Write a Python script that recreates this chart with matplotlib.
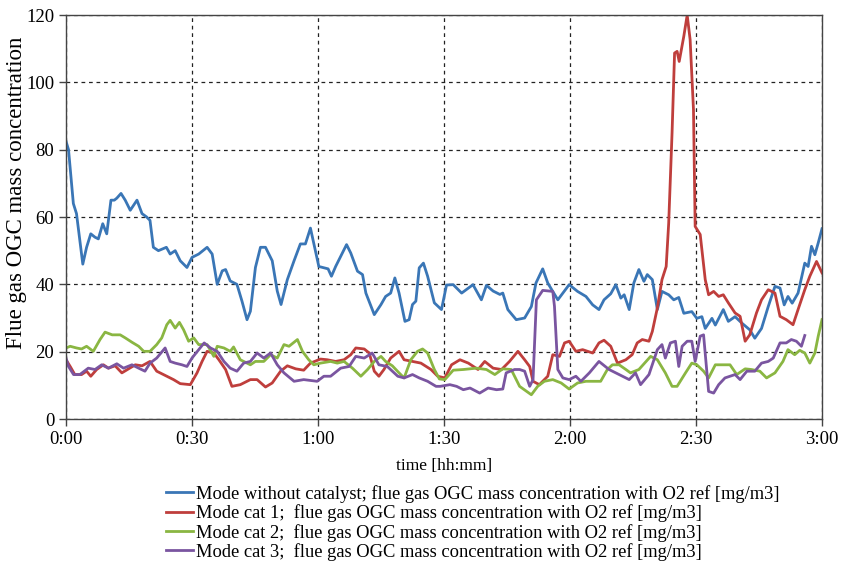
import matplotlib
matplotlib.use("Agg")
import matplotlib.pyplot as plt

plt.rcParams['font.family'] = ['Liberation Serif', 'DejaVu Serif']

# time in minutes, values in mg/m3
t_blue = [0, 0.6, 1.1, 1.75, 2.5, 3.3, 4.0, 4.9, 5.9, 6.9, 7.7, 8.75, 9.7, 10.7, 11.5, 12.1, 13.1,
          14.1, 15.3, 16.9, 18.1, 19.2, 20, 20.8, 22, 23.9, 24.8, 26, 27.2, 28.8, 30, 31.6, 33.6,
          34.8, 36, 37.2, 38, 39.1, 40.7, 41.9, 43.1, 43.9, 45.1, 46.3, 47.5, 49.1, 50.3, 51.2,
          52.7, 54.3, 55.8, 57, 58.2, 59.2, 60.2, 61.4, 62.4, 63.2, 64.2, 65.4, 66.8, 67.8, 69.4,
          70.6, 71.4, 73.4, 75, 76.1, 77.3, 78.3, 79.3, 80.7, 81.7, 82.5, 83.3, 84.1, 85.1, 86.1,
          87.7, 89.4, 90.6, 92.2, 94.2, 96.9, 98.9, 100.1, 101.7, 103.3, 104.0, 105.2, 107.2,
          109.2, 110.8, 111.9, 113.5, 114.7, 117.1, 118.3, 119.8, 121.8, 123.8, 125.4, 126.9,
          128.1, 129.7, 130.9, 132.1, 132.9, 134.1, 135.2, 136.4, 137.6, 138.4, 139.6, 140.8,
          141.9, 143.5, 144.7, 145.9, 147.1, 149.0, 150.2, 151.4, 152.2, 153.8, 154.6, 156.5,
          157.7, 159.3, 160.9, 162.8, 164.0, 165.6, 167.2, 168.8, 170.0, 171.0, 171.9, 172.9,
          174.3, 175.9, 176.7, 177.5, 178.3, 179.1, 180]
v_blue = [82.5, 80, 73, 64, 61, 53, 46, 51, 55, 54, 53.5, 58, 55, 65, 65, 65.6, 67,
          65, 62, 65, 61, 60, 59, 51, 50, 51, 49, 50, 47, 45, 48, 49, 51,
          49, 40, 44, 44.4, 41, 40, 35, 29.5, 32, 45, 51, 51, 47, 38, 34,
          41.4, 47, 52, 52, 56.7, 51, 45.3, 44.9, 44.6, 42.4, 45.3, 48.3, 51.8, 49.3, 43.9,
          42.9, 37.4, 31, 34, 36.4, 37.4, 41.9, 37.4, 29, 29.5, 34, 35, 44.9, 46.3, 42.4,
          34.5, 32.5, 39.8, 39.9, 37.4, 39.9, 35.4, 39.7, 38.0, 37.0, 37.4, 32.5, 29.5,
          30.0, 33.4, 40.4, 44.6, 40.4, 35.4, 37.4, 39.9, 37.9, 36.4, 33.9, 32.5,
          35.4, 37.2, 39.9, 35.9, 36.9, 32.5, 40.4, 44.4, 40.9, 42.9, 41.4, 32.5,
          37.9, 36.9, 35.4, 36.1, 31.4, 31.9, 29.9, 30.4, 26.9, 29.9, 27.9, 32.5,
          29.0, 30.4, 28.5, 26.5, 24.0, 26.9, 33.4, 39.4, 38.9, 33.9, 36.4, 34.4,
          37.4, 46.3, 45.3, 51.3, 48.8, 52.3, 56.5]

t_red = [0, 1.0, 2.1, 3.7, 4.9, 5.9, 7.3, 8.9, 10.1, 11.7, 13.3, 14.9, 16.5, 18.1, 20.0, 21.6,
         24.0, 25.6, 27.2, 29.6, 31.2, 32.4, 33.6, 35.2, 36.4, 38.0, 39.5, 41.5, 43.9, 45.5,
         47.5, 49.1, 51.1, 52.7, 54.7, 56.6, 58.2, 60.6, 62.2, 64.2, 66.2, 67.8, 69.0, 71.0,
         72.2, 73.4, 74.5, 75.7, 77.3, 79.3, 80.5, 82.5, 84.5, 86.9, 88.5, 90.2, 91.8, 93.8,
         95.8, 98.1, 99.7, 101.7, 103.7, 105.6, 107.6, 109.2, 110.4, 111.2, 112.7, 114.7,
         115.9, 117.5, 118.7, 119.8, 121.4, 123.0, 125.4, 126.9, 128.1, 129.7, 131.3, 133.3,
         134.8, 136.0, 137.2, 138.8, 139.6, 140.8, 141.9, 142.9, 143.5, 144.3, 144.9, 145.5,
         146.0, 147.1, 147.9, 148.6, 149.4, 149.8, 151.0, 152.2, 153.0, 154.2, 155.4, 156.5,
         157.7, 159.3, 160.5, 161.7, 162.8, 164.4, 165.6, 167.2, 168.8, 170.0, 171.5, 173.1,
         174.3, 175.9, 177.1, 178.7, 180]
v_red = [17.6, 15.6, 13.2, 13.2, 14.2, 12.7, 14.7, 16.1, 15.1, 15.8, 13.7, 14.9, 16.1, 15.8, 17.1, 14.2,
         12.7, 11.7, 10.5, 10.2, 13.7, 17.1, 20.1, 19.6, 17.6, 14.7, 9.7, 10.2, 11.7, 11.7,
         9.5, 10.7, 14.2, 15.8, 14.9, 14.5, 16.6, 17.8, 17.6, 17.1, 17.6, 19.1, 21.1, 20.8,
         19.6, 14.2, 12.7, 14.7, 18.1, 20.1, 17.6, 17.1, 16.6, 14.7, 12.7, 12.2, 16.1, 17.6,
         16.6, 14.7, 17.1, 15.1, 14.7, 17.1, 20.1, 17.6, 15.6, 11.2, 10.2, 12.7,
         19.1, 18.6, 22.6, 23.1, 20.1, 20.6, 19.6, 22.6, 23.4, 21.6, 16.6, 17.6,
         19.1, 22.6, 23.6, 23.1, 26.0, 33.0, 41.4, 45.3, 58.2, 85, 108.7, 109.2,
         106.2, 113.7, 120, 112.7, 91.9, 57.2, 54.8, 41.4, 36.9, 37.9, 36.4, 36.9,
         34.5, 31.5, 30.5, 23.1, 25.0, 31.5, 35.4, 38.4, 37.4, 30.5, 29.5, 28.0,
         32.5, 38.4, 42.4, 46.8, 43.4]

t_green = [0, 1.0, 2.5, 3.7, 4.9, 6.5, 8.1, 9.3, 11.0, 12.9, 14.1, 15.7, 17.3, 18.5, 20.0, 21.6,
           22.8, 24.0, 24.8, 26.0, 27.0, 28.0, 29.2, 30.4, 31.6, 33.6, 35.2, 36.0, 37.6, 39.1,
           39.9, 41.5, 43.9, 45.1, 47.1, 48.7, 50.3, 51.9, 53.1, 55.1, 56.3, 57.8, 59.0, 60.6,
           63.0, 64.6, 66.2, 68.2, 70.2, 71.8, 73.4, 75.0, 76.1, 77.7, 79.3, 80.5, 82.1, 83.7,
           84.9, 86.1, 87.7, 88.9, 90.2, 92.2, 94.6, 97.7, 100.1, 102.1, 104.0, 106.0, 108.0,
           110.8, 112.3, 113.9, 115.9, 117.9, 119.8, 121.8, 123.8, 127.3, 128.9, 130.1, 131.7,
           133.3, 134.4, 136.4, 139.2, 140.8, 142.7, 144.3, 145.5, 147.5, 149.0, 150.2, 151.8,
           153.0, 154.6, 156.5, 158.1, 159.7, 161.7, 163.2, 165.2, 166.8, 168.8, 170.7, 171.9,
           173.5, 174.7, 175.9, 177.1, 178.3, 179.1, 180]
v_green = [21.1, 21.6, 21.1, 20.8, 21.6, 20.1, 23.6, 25.8, 25.0, 25.0, 24.1, 22.8, 21.6, 20.1, 20.1, 22.1,
           24.1, 28.0, 29.3, 27.0, 28.7, 26.5, 23.1, 24.1, 22.1, 22.1, 18.6, 21.6, 21.1, 20.1,
           21.4, 17.6, 16.1, 17.1, 17.1, 19.1, 18.1, 22.1, 21.6, 23.6, 20.1, 17.6, 16.1, 16.6,
           17.1, 16.6, 17.1, 15.1, 12.7, 14.7, 17.1, 18.6, 17.1, 15.8, 13.7, 12.2, 17.6, 20.1,
           20.8, 19.6, 14.7, 11.9, 11.7, 14.5, 14.7, 15.1, 14.7, 13.2, 14.9, 14.7, 9.7,
           7.2, 9.7, 11.2, 11.7, 10.7, 8.9, 10.7, 11.2, 11.2, 14.7, 16.1, 16.1,
           14.7, 13.7, 14.7, 18.6, 17.6, 13.7, 9.7, 9.7, 13.7, 16.6, 16.1, 14.2,
           12.2, 16.1, 16.1, 16.1, 13.2, 14.9, 14.7, 14.2, 12.2, 13.7, 17.1, 20.6,
           19.1, 20.4, 19.6, 16.6, 19.6, 24.6, 29.5]

t_purple = [0, 0.6, 1.8, 3.3, 5.3, 6.9, 8.5, 10.1, 12.1, 13.7, 15.7, 17.3, 18.8, 20.0, 21.6, 23.6,
            24.8, 26.0, 27.6, 28.8, 30.0, 31.6, 32.9, 34.4, 36.0, 37.6, 39.1, 40.7, 42.3, 43.9,
            45.5, 47.1, 48.7, 50.3, 51.9, 54.3, 56.6, 59.8, 61.4, 63.0, 65.4, 67.4, 69.0, 71.0,
            72.9, 74.5, 76.5, 79.0, 80.5, 82.5, 84.1, 86.1, 88.1, 89.1, 91.4, 93.0, 94.6, 96.2,
            98.5, 100.5, 102.5, 104.0, 104.8, 106.8, 108.0, 109.2, 110.4, 111.2, 112.0, 113.5,
            115.9, 116.3, 117.1, 118.3, 119.8, 121.4, 122.6, 124.6, 126.9, 129.3, 131.7, 134.1,
            135.6, 136.8, 138.8, 140.8, 141.9, 142.7, 143.9, 145.1, 145.9, 146.7, 147.9, 149.0,
            149.8, 151.0, 151.8, 153.0, 154.2, 155.4, 156.9, 159.3, 160.5, 162.1, 164.0, 165.6,
            167.2, 168.4, 170.0, 171.5, 172.7, 173.9, 175.1, 175.9]
v_purple = [18.1, 15.6, 13.2, 13.2, 15.1, 14.7, 16.1, 15.1, 16.4, 15.1, 16.1, 15.1, 14.2, 16.6, 18.1, 21.1,
            17.1, 16.6, 16.1, 15.6, 18.1, 20.6, 22.6, 21.1, 20.1, 17.1, 15.1, 14.2, 16.6, 17.1,
            19.6, 18.1, 19.6, 16.1, 13.7, 11.2, 11.7, 11.2, 12.7, 12.7, 15.1, 15.6, 18.6, 18.1,
            19.6, 16.1, 15.6, 12.7, 12.2, 13.2, 12.2, 11.2, 9.7, 9.7, 10.2, 9.7, 8.7, 9.2,
            7.7, 9.2, 8.7, 8.9, 13.7, 14.7, 14.7, 14.2, 9.7, 11.7, 35.4, 38.2,
            37.9, 33.5, 14.7, 12.2, 11.7, 12.7, 11.2, 13.7, 17.1, 14.7, 13.2, 11.7,
            13.7, 10.2, 13.2, 20.6, 22.1, 18.1, 22.6, 23.1, 15.6, 21.6, 23.1, 23.1,
            17.1, 24.6, 25.0, 8.2, 7.7, 10.2, 12.2, 13.2, 11.7, 14.2, 14.2, 16.6,
            17.1, 18.1, 22.6, 22.6, 23.6, 23.1, 21.6, 24.8]

x_ticks = [0, 30, 60, 90, 120, 150, 180]
x_tick_labels = ["0:00", "0:30", "1:00", "1:30", "2:00", "2:30", "3:00"]
y_ticks = [0, 20, 40, 60, 80, 100, 120]

labels = [
    "Mode without catalyst; flue gas OGC mass concentration with O2 ref [mg/m3]",
    "Mode cat 1;  flue gas OGC mass concentration with O2 ref [mg/m3]",
    "Mode cat 2;  flue gas OGC mass concentration with O2 ref [mg/m3]",
    "Mode cat 3;  flue gas OGC mass concentration with O2 ref [mg/m3]",
]
colors = ["#3a76b6", "#bf3e3c", "#8ab642", "#7a55a0"]

fig = plt.figure(figsize=(8.42, 5.68), dpi=100)
ax = fig.add_axes([66 / 842, 1 - 419 / 568, 756 / 842, 404 / 568])

series = [(t_blue, v_blue), (t_red, v_red), (t_green, v_green), (t_purple, v_purple)]
for (t, v), c, lab in zip(series, colors, labels):
    ax.plot(t, v, color=c, lw=2.0, label=lab, solid_joinstyle="round")

ax.set_xlim(0, 180)
ax.set_ylim(0, 120)
ax.set_xticks(x_ticks)
ax.set_xticklabels(x_tick_labels)
ax.set_yticks(y_ticks)
ax.tick_params(labelsize=13.5, direction="out", length=5, color="#444444", width=1)
ax.grid(True, linestyle=(0, (3, 3)), color="#222222", lw=0.9)
for s in ax.spines.values():
    s.set_color("#444444")
    s.set_linewidth(1.0)

ax.set_xlabel("time [hh:mm]", fontsize=12.5, labelpad=7)
ax.set_ylabel("Flue gas OGC mass concentration", fontsize=16.5, va="center", ha="center")
ax.yaxis.set_label_coords(-0.066, 0.56)

fig.legend(loc="upper left", bbox_to_anchor=(166 / 842, 1 - 485 / 568), frameon=False,
           fontsize=13.3, handlelength=1.45, handletextpad=0.2, labelspacing=0.08,
           borderpad=0, borderaxespad=0)

fig.savefig("out.png", dpi=100)
